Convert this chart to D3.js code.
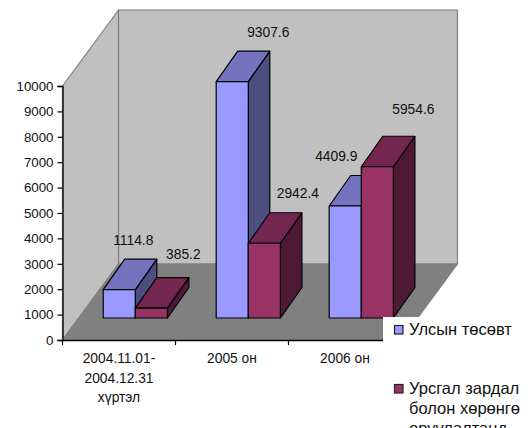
<!DOCTYPE html>
<html>

<head>
    <meta charset="utf-8">
    <title>Улсын төсөвт</title>
    <script src="https://cdn.jsdelivr.net/npm/d3@7/dist/d3.min.js"></script>
    <style>
        html, body { margin: 0; padding: 0; background: #fff; overflow: hidden; }
        svg { display: block; }
        text { font-family: "Liberation Sans", Arial, sans-serif; font-size: 13.8px; fill: #111; }
    </style>
</head>

<body>
    <svg id="chart" width="531" height="428"></svg>
    <script>
    var categories = [['2004.11.01-', '2004.12.31', 'хүртэл'], ['2005 он'], ['2006 он']];
    var budget = [1114.8, 9307.6, 4409.9];
    var expenses = [385.2, 2942.4, 5954.6];
    var yTicks = [0, 1000, 2000, 3000, 4000, 5000, 6000, 7000, 8000, 9000, 10000];
    var legendBudget = ['Улсын төсөвт'];
    var legendExpenses = ['Урсгал зардал', 'болон хөрөнгө', 'оруулалтанд'];

    // 3d box of the plot: front corner, depth of the whole floor, depth of a bar
    var x0 = 62.5, x1 = 401.5, y0 = 340, yTop = 86;
    var depthX = 56, depthY = -76;
    var barDepthX = 21.5, barDepthY = -30.5;
    var barStartX = 16.3, barStartY = -22;

    var svg = d3.select('#chart');

    var x = d3.scaleBand().domain(d3.range(categories.length)).range([x0, x1]);
    var y = d3.scaleLinear().domain([0, 10000]).range([y0, yTop]);
    var barX = d3.scaleBand().domain([0, 1]).range([0, x.bandwidth()]).paddingOuter(0.76).paddingInner(0);

    function poly(pts, fill, stroke, sw) {
        return svg.append('polygon')
            .attr('points', pts.map(p => p.join(',')).join(' '))
            .attr('fill', fill)
            .attr('stroke', stroke)
            .attr('stroke-width', sw)
            .attr('stroke-linejoin', 'round');
    }

    // walls and floor
    poly([[x0 + depthX, y(10000) + depthY], [x1 + depthX, y(10000) + depthY], [x1 + depthX, y0 + depthY], [x0 + depthX, y0 + depthY]], '#c0c0c0', '#808080', 1.2);
    poly([[x0, y(10000)], [x0 + depthX, y(10000) + depthY], [x0 + depthX, y0 + depthY], [x0, y0]], '#c0c0c0', '#808080', 1.2);
    poly([[x0, y0], [x0 + depthX, y0 + depthY], [x1 + depthX, y0 + depthY], [x1, y0]], '#808080', '#808080', 1.2);

    // one 3d bar: side, top, then front
    function bar(cat, ser, value, colors) {
        var l = x(cat) + barX(ser) + barStartX;
        var r = l + barX.bandwidth();
        var b = y0 + barStartY;
        var t = b - (y0 - y(value));
        poly([[r, b], [r + barDepthX, b + barDepthY], [r + barDepthX, t + barDepthY], [r, t]], colors[2], '#000', 1.2);
        poly([[l, t], [l + barDepthX, t + barDepthY], [r + barDepthX, t + barDepthY], [r, t]], colors[1], '#000', 1.2);
        poly([[l, t], [r, t], [r, b], [l, b]], colors[0], '#000', 1.2);
    }

    var blue = ['#9999ff', '#7373bf', '#4d4d80'];
    var maroon = ['#993366', '#732650', '#4d1933'];

    categories.forEach(function (c, i) {
        bar(i, 0, budget[i], blue);
        bar(i, 1, expenses[i], maroon);
    });

    // data labels, nudged by hand like in the original
    var labelNudge = [[[14, -45], [32, -49]], [[36, -45], [33.5, -45]], [[-9, -45], [36, -53]]];
    categories.forEach(function (c, i) {
        [budget[i], expenses[i]].forEach(function (v, s) {
            var l = x(i) + barX(s) + barStartX;
            var t = y0 + barStartY - (y0 - y(v));
            svg.append('text')
                .attr('x', l + barX.bandwidth() / 2 + labelNudge[i][s][0])
                .attr('y', t + labelNudge[i][s][1])
                .attr('text-anchor', 'middle')
                .text(d3.format('.1f')(v));
        });
    });

    // axes
    var yAxis = d3.axisLeft(y).tickValues(yTicks).tickSize(5).tickPadding(4).tickFormat(d3.format('d'));
    var yG = svg.append('g').attr('transform', 'translate(' + x0 + ',0)').call(yAxis);
    yG.select('.domain').attr('stroke', '#000').attr('stroke-width', 1.3);
    yG.selectAll('line').attr('stroke', '#000').attr('stroke-width', 1.2);
    yG.selectAll('text').style('font-size', '13.3px').style('font-family', '"Liberation Sans", Arial, sans-serif');

    var xAxis = d3.axisBottom(x).tickSize(0).tickPadding(0).tickFormat('');
    var xG = svg.append('g').attr('transform', 'translate(0,' + y0 + ')').call(xAxis);
    xG.select('.domain').attr('stroke', '#000').attr('stroke-width', 1.3);
    d3.range(categories.length + 1).forEach(function (i) {
        var px = i < categories.length ? x(i) : x1;
        xG.append('line').attr('x1', px).attr('x2', px).attr('y1', 0).attr('y2', 5).attr('stroke', '#000').attr('stroke-width', 1.2);
    });

    // legend sits on a white box which hides the chart corner
    svg.append('rect').attr('x', 383).attr('y', 317).attr('width', 148).attr('height', 111).attr('fill', '#fff');

    categories.forEach(function (lines, i) {
        var t = svg.append('text').attr('text-anchor', 'middle').attr('y', 363);
        lines.forEach(function (s, k) {
            t.append('tspan').attr('x', x(i) + x.bandwidth() / 2).attr('y', 363 + k * 19.7).text(s);
        });
    });

    function legend(lines, yy, color) {
        svg.append('rect').attr('x', 394.5).attr('y', yy - 9.5).attr('width', 8.5).attr('height', 8.5)
            .attr('fill', color).attr('stroke', '#222').attr('stroke-width', 1.2);
        lines.forEach(function (s, k) {
            svg.append('text').attr('x', 409).attr('y', yy + k * 20).style('font-size', '16.5px').text(s);
        });
    }
    legend(legendBudget, 335, blue[0]);
    legend(legendExpenses, 394, maroon[0]);
    </script>
</body>

</html>
